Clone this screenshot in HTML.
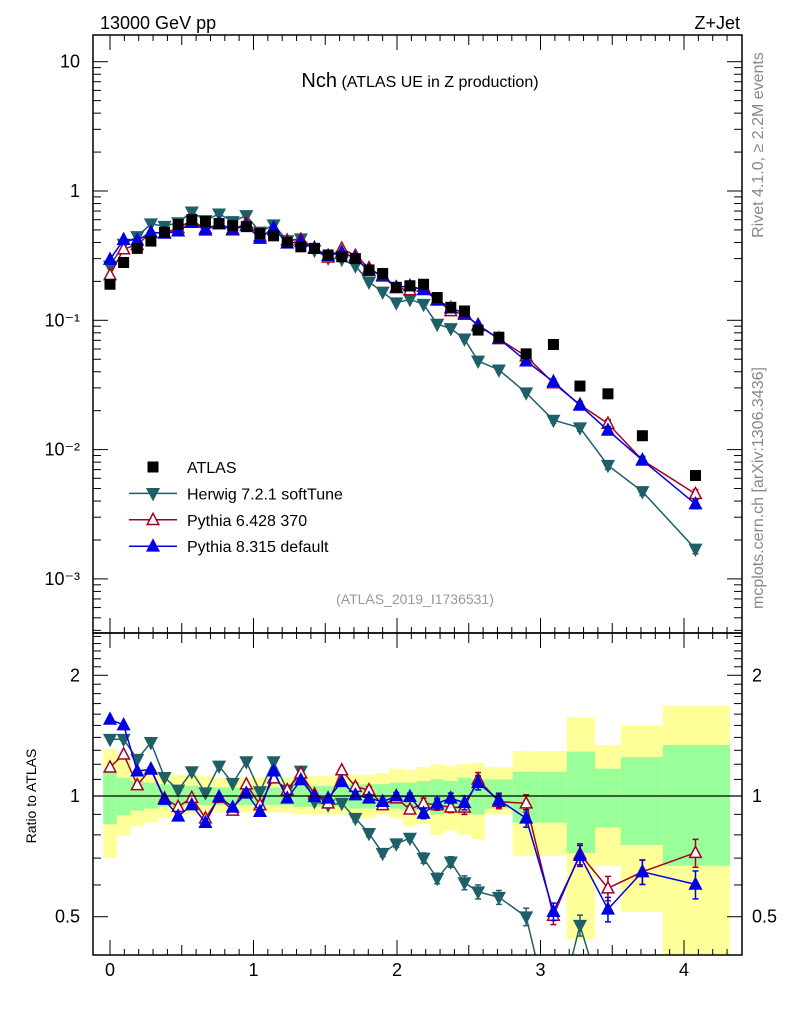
<!DOCTYPE html>
<html><head><meta charset="utf-8"><style>
body{margin:0;background:#fff}
svg text{font-family:"Liberation Sans",sans-serif}
</style></head><body>
<svg id="chart" width="786" height="1024" viewBox="0 0 786 1024" xmlns="http://www.w3.org/2000/svg">
<defs>
<clipPath id="cm"><rect x="93" y="35" width="649" height="598"/></clipPath>
<clipPath id="cr"><rect x="93" y="633" width="649" height="322"/></clipPath>
</defs>
<g id="bands" clip-path="url(#cr)"></g>
<g id="marks"></g>
<rect x="93" y="35" width="649" height="598" fill="none" stroke="#000" stroke-width="1.5"/>
<rect x="93" y="633" width="649" height="322" fill="none" stroke="#000" stroke-width="1.5"/>
<g id="ticks" stroke="#000" stroke-width="1"></g>
<text x="100" y="29" font-size="18">13000 GeV pp</text>
<text x="740" y="29" font-size="18" text-anchor="end">Z+Jet</text>
<text x="420" y="87" text-anchor="middle"><tspan font-size="20">Nch</tspan><tspan font-size="16"> (ATLAS UE in Z production)</tspan></text>
<text x="415" y="604" font-size="14" fill="#999" text-anchor="middle">(ATLAS_2019_I1736531)</text>
<text transform="translate(763,145) rotate(-90)" font-size="16" fill="#888" text-anchor="middle">Rivet 4.1.0, ≥ 2.2M events</text>
<text transform="translate(763,488) rotate(-90)" font-size="16" fill="#888" text-anchor="middle">mcplots.cern.ch [arXiv:1306.3436]</text>
<text transform="translate(36,796) rotate(-90)" font-size="14" text-anchor="middle">Ratio to ATLAS</text>
<g id="legend"></g>
<g id="labels" font-size="18"></g>
</svg>
<script>
const xVals=[0,0.095,0.19,0.285,0.38,0.475,0.57,0.665,0.76,0.855,0.95,1.045,1.14,1.235,1.33,1.425,1.52,1.615,1.71,1.805,1.9,1.995,2.09,2.185,2.28,2.375,2.47,2.565,2.71,2.9,3.09,3.275,3.47,3.71,4.08];
const atlas=[0.19,0.28,0.36,0.41,0.48,0.55,0.6,0.58,0.56,0.54,0.53,0.47,0.45,0.40,0.37,0.36,0.32,0.31,0.30,0.245,0.23,0.18,0.185,0.19,0.15,0.126,0.118,0.084,0.074,0.055,0.065,0.031,0.027,0.0128,0.0063];
const herwigRatio=[1.385,1.385,1.235,1.36,1.113,1.035,1.15,1.019,1.188,1.076,1.218,1.025,1.218,1.035,1.154,0.968,0.95,0.959,0.88,0.807,0.72,0.76,0.785,0.70,0.623,0.685,0.608,0.577,0.559,0.50,0.26,0.476,0.28,0.37,0.27];
const py6Ratio=[1.179,1.27,1.065,1.168,0.987,0.94,0.99,0.88,0.99,0.92,1.07,0.95,1.107,1.035,1.14,1.01,0.959,1.16,1.055,1.035,0.95,0.987,0.926,0.959,0.95,0.937,0.937,1.10,0.968,0.959,0.503,0.717,0.589,0.647,0.722];
const py8Ratio=[1.553,1.503,1.154,1.165,0.98,0.89,0.95,0.858,0.996,0.937,1.016,0.914,1.154,0.987,1.096,0.996,0.987,1.085,1.006,0.987,0.968,1.0,0.996,0.905,0.959,0.987,0.962,1.079,0.977,0.88,0.515,0.71,0.522,0.647,0.602];
const relErr=[0.01,0.01,0.01,0.01,0.01,0.01,0.01,0.01,0.01,0.01,0.01,0.01,0.01,0.01,0.01,0.01,0.01,0.01,0.02,0.02,0.02,0.02,0.02,0.03,0.03,0.03,0.04,0.04,0.04,0.05,0.05,0.06,0.07,0.07,0.08];
const bandEdges=[-0.0475,0.0475,0.1425,0.2375,0.3325,0.4275,0.5225,0.6175,0.7125,0.8075,0.9025,0.9975,1.0925,1.1875,1.2825,1.3775,1.4725,1.5675,1.6625,1.7575,1.8525,1.9475,2.0425,2.1375,2.2325,2.3275,2.4225,2.5175,2.6125,2.806,2.995,3.183,3.38,3.559,3.852,4.32];
const yelUp=[1.31,1.23,1.17,1.17,1.14,1.13,1.13,1.12,1.11,1.11,1.11,1.11,1.11,1.11,1.12,1.12,1.12,1.12,1.13,1.13,1.14,1.17,1.16,1.18,1.20,1.19,1.20,1.21,1.18,1.295,1.295,1.57,1.34,1.50,1.68];
const yelDn=[0.70,0.795,0.84,0.86,0.88,0.89,0.90,0.90,0.91,0.91,0.91,0.91,0.91,0.91,0.90,0.90,0.90,0.90,0.88,0.88,0.90,0.88,0.84,0.85,0.80,0.82,0.80,0.78,0.90,0.71,0.71,0.44,0.67,0.514,0.3];
const grnUp=[1.15,1.11,1.09,1.08,1.07,1.06,1.06,1.05,1.05,1.05,1.05,1.05,1.05,1.05,1.06,1.06,1.06,1.06,1.07,1.07,1.07,1.08,1.08,1.09,1.10,1.09,1.11,1.10,1.10,1.15,1.15,1.29,1.17,1.25,1.34];
const grnDn=[0.85,0.895,0.92,0.93,0.94,0.94,0.95,0.95,0.95,0.95,0.95,0.95,0.95,0.95,0.94,0.94,0.94,0.94,0.93,0.93,0.94,0.93,0.92,0.92,0.90,0.92,0.90,0.90,0.93,0.858,0.858,0.72,0.835,0.755,0.67];
const xTicks=[0,1,2,3,4];
const mainTickLabels=["10","1","10⁻¹","10⁻²","10⁻³"];
const mainTickVals=[10,1,0.1,0.01,0.001];
const ratioTickVals=[2,1,0.5];
const ratioTickLabels=["2","1","0.5"];

const NS="http://www.w3.org/2000/svg";
const xs=v=>110+v*143.5;
const ym=v=>191-Math.log10(v)*129.3;
const yr=v=>796-Math.log10(v)*401;
function mk(tag,attrs,parent){const e=document.createElementNS(NS,tag);for(const k in attrs)e.setAttribute(k,attrs[k]);parent.appendChild(e);return e;}
const svg=document.getElementById('chart');
const bands=document.getElementById('bands');
for(let i=0;i<yelUp.length;i++){
  const x0=xs(bandEdges[i]),x1=xs(bandEdges[i+1]);
  const a=mk('rect',{x:x0,y:yr(yelUp[i]),width:x1-x0,height:yr(yelDn[i])-yr(yelUp[i]),fill:'#ffff99'},bands);
  
  
  const b=mk('rect',{x:x0,y:yr(grnUp[i]),width:x1-x0,height:yr(grnDn[i])-yr(grnUp[i]),fill:'#99ff99'},bands);
  
  
}
mk('line',{x1:93,x2:742,y1:796,y2:796,stroke:'#000','stroke-width':1.3},svg);
const marks=document.getElementById('marks');
const gm=mk('g',{'clip-path':'url(#cm)'},marks);
const gr=mk('g',{'clip-path':'url(#cr)'},marks);
function tri(g,x,y,down,col,filled){
  const s=5.8;
  const pts=down?`${x-s},${y-s*0.8} ${x+s},${y-s*0.8} ${x},${y+s*1.1}`:`${x-s},${y+s*0.8} ${x+s},${y+s*0.8} ${x},${y-s*1.1}`;
  return mk('polygon',{points:pts,fill:filled?col:'#fff',stroke:col,'stroke-width':1.5},g);
}
const series=[
 {name:'herwig',ratio:herwigRatio,col:'#1f6068',down:true,filled:true},
 {name:'pythia6',ratio:py6Ratio,col:'#a50021',down:false,filled:false},
 {name:'pythia8',ratio:py8Ratio,col:'#0000e6',down:false,filled:true}
];
series.forEach(s=>{
  const mainVals=s.ratio.map((r,i)=>r*atlas[i]);
  const pm=xVals.map((x,i)=>xs(x)+','+ym(mainVals[i])).join(' ');
  const lm=mk('polyline',{points:pm,fill:'none',stroke:s.col,'stroke-width':1.5},gm);
  
  
  const pr=xVals.map((x,i)=>xs(x)+','+yr(s.ratio[i])).join(' ');
  const lr=mk('polyline',{points:pr,fill:'none',stroke:s.col,'stroke-width':1.5},gr);
  
  
  xVals.forEach((x,i)=>{
    const X=xs(x);
    [[gm,mainVals[i],ym],[gr,s.ratio[i],yr]].forEach(([g,v,yf])=>{
      const e=relErr[i];
      if(e>0.015){mk('line',{x1:X,x2:X,y1:yf(v*(1+e)),y2:yf(v*(1-e)),stroke:s.col,'stroke-width':1.5},g);
        mk('line',{x1:X-3,x2:X+3,y1:yf(v*(1+e)),y2:yf(v*(1+e)),stroke:s.col,'stroke-width':1.5},g);
        mk('line',{x1:X-3,x2:X+3,y1:yf(v*(1-e)),y2:yf(v*(1-e)),stroke:s.col,'stroke-width':1.5},g);}
      const p=tri(g,X,yf(v),s.down,s.col,s.filled);
      
      
    });
  });
});
xVals.forEach((x,i)=>{
  const r=mk('rect',{x:xs(x)-5.5,y:ym(atlas[i])-5.5,width:11,height:11,fill:'#000'},gm);
  
  
});
const tk=document.getElementById('ticks');
for(let d=-4;d<=1;d++)for(let m=1;m<10;m++){
  const v=m*Math.pow(10,d);const y=ym(v);if(y<36||y>632)continue;
  const L=m===1?15:8;
  mk('line',{x1:93,x2:93+L,y1:y,y2:y},tk);mk('line',{x1:742,x2:742-L,y1:y,y2:y},tk);
}
for(let r=4;r<=25;r++){
  const v=r/10;const y=yr(v);if(y<634||y>954)continue;
  const L=(v===0.5||v===1||v===2)?15:8;
  mk('line',{x1:93,x2:93+L,y1:y,y2:y},tk);mk('line',{x1:742,x2:742-L,y1:y,y2:y},tk);
}
for(let t=-1;t<=44;t++){
  const v=t/10;const x=xs(v);if(x<97||x>741)continue;
  const L=(t%10===0)?15:(t%5===0?10:6);
  [35,633].forEach(y0=>mk('line',{x1:x,x2:x,y1:y0,y2:y0+L},tk));
  [633,955].forEach(y0=>mk('line',{x1:x,x2:x,y1:y0,y2:y0-L},tk));
}
const lab=document.getElementById('labels');
mainTickVals.forEach((v,i)=>{
  const t=mk('text',{x:80,y:ym(v)+6,'text-anchor':'end'},lab);t.textContent=mainTickLabels[i];
  
  
});
ratioTickVals.forEach((v,i)=>{
  [[80,'end'],[752,'start']].forEach(([x,a])=>{
    const t=mk('text',{x:x,y:yr(v)+6,'text-anchor':a},lab);t.textContent=ratioTickLabels[i];
    
    
  });
});
xTicks.forEach(v=>{
  const t=mk('text',{x:xs(v),y:976,'text-anchor':'middle'},lab);t.textContent=String(v);
  
  
});
const lg=document.getElementById('legend');
const legItems=[['ATLAS',null],['Herwig 7.2.1 softTune',series[0]],['Pythia 6.428 370',series[1]],['Pythia 8.315 default',series[2]]];
legItems.forEach(([name,s],i)=>{
  const y=467+i*26.4;
  const g=mk('g',{},lg);
  
  
  if(!s){mk('rect',{x:147.5,y:y-5.5,width:11,height:11,fill:'#000'},g);}
  else{mk('line',{x1:129,x2:177,y1:y,y2:y,stroke:s.col,'stroke-width':1.5},g);tri(g,153,y,s.down,s.col,s.filled);}
  const t=mk('text',{x:187,y:y+6,'font-size':16},g);t.textContent=name;
});
</script>
</body></html>
